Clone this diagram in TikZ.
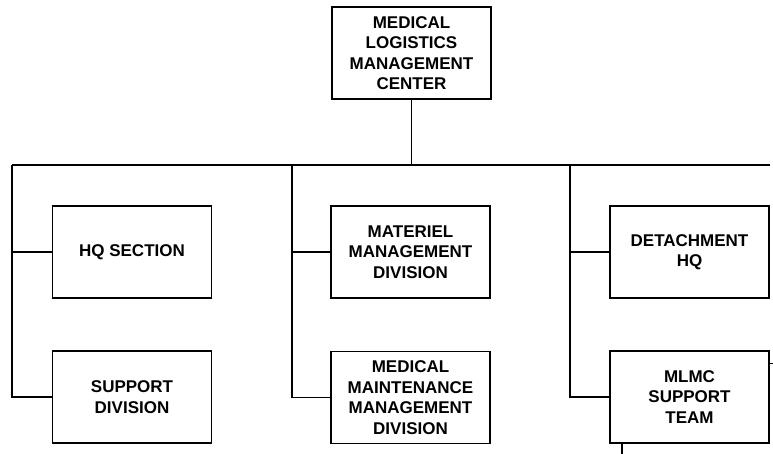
\documentclass[tikz,border=0pt]{standalone}
\usepackage{fontspec}
\setmainfont{Liberation Sans}
\begin{document}
\begin{tikzpicture}[x=1pt,y=-1pt,
  box/.style={draw,line width=1.9pt,minimum width=159pt,minimum height=92pt,
    align=center,font=\fontsize{17}{20.5}\selectfont\bfseries,inner sep=0pt},
  link/.style={line width=1.9pt}]
\useasboundingbox (0,0) rectangle (773,454);
\node[box] (top) at (411.5,53) {MEDICAL\\LOGISTICS\\MANAGEMENT\\CENTER};
\node[box] (hq) at (132,252) {HQ SECTION};
\node[box] (sup) at (132,397) {SUPPORT\\DIVISION};
\node[box] (mat) at (410.5,252) {MATERIEL\\MANAGEMENT\\DIVISION};
\node[box] (mmd) at (410.5,397.5) {MEDICAL\\MAINTENANCE\\MANAGEMENT\\DIVISION};
\node[box] (det) at (689.5,252) {DETACHMENT\\HQ};
\node[box] (mlmc) at (689.5,397) {MLMC\\SUPPORT\\TEAM};
\coordinate (busL) at (12,165);
\coordinate (busR) at (770,165);
\coordinate (busM) at (292,165);
\coordinate (busD) at (570,165);
\coordinate (tick) at (773,363);
\coordinate (down) at (622,454);
\draw[link] (top.south) -- (top.south |- busL);
\draw[link] (busL) -- (busR);
\draw[link] (busL) |- (hq.west);
\draw[link] (busL) |- (sup.west);
\draw[link] (busM) |- (mat.west);
\draw[link] (busM) |- (mmd.west);
\draw[link] (busD) |- (det.west);
\draw[link] (busD) |- (mlmc.west);
\draw[line width=1pt] (mlmc.east |- tick) -- (tick);
\draw[line width=1.2pt] (down |- mlmc.south) -- (down);
\end{tikzpicture}
\end{document}
